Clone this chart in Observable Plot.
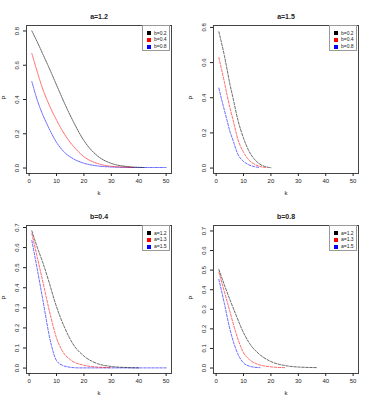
<!DOCTYPE html>
<html><head><meta charset="utf-8">
<script src="https://cdn.jsdelivr.net/npm/d3@7"></script>
<script src="https://cdn.jsdelivr.net/npm/@observablehq/plot@0.6"></script>
<style>
body{margin:0;background:#fff;font-family:"Liberation Sans",Arial,sans-serif}
#grid{display:grid;grid-template-columns:187px 187px;width:374px}
.panel{position:relative;width:187px}
.panel svg{display:block}
.legend{position:absolute;left:142px;top:25px;width:28px;height:26px;border:1px solid #999;background:#fff;box-sizing:border-box;font-size:5px;color:#222}
.legend .row{position:absolute;left:4px;height:5px;line-height:5px;white-space:nowrap}
.legend .sw{display:inline-block;width:4px;height:4px;margin-right:3px;vertical-align:middle}
</style></head><body><div id="grid"></div><script>
// ---- data ----
const panelTitles = ["a=1.2", "a=1.5", "b=0.4", "b=0.8"];
const legendLabelsB = ["b=0.2", "b=0.4", "b=0.8"];
const legendLabelsA = ["a=1.2", "a=1.3", "a=1.5"];
const seriesColors = ["black", "red", "blue"];
const xTicks = [0, 10, 20, 30, 40, 50];
const yTicksTop = [0, 0.2, 0.4, 0.6, 0.8];
const yTicksBottom = [0, 0.1, 0.2, 0.3, 0.4, 0.5, 0.6, 0.7];

// panel 1: a=1.2
const p1BlackK = [1, 3, 5, 7, 10, 13, 16, 20, 25, 30, 35, 40, 42];
const p1BlackP = [0.80, 0.735, 0.665, 0.595, 0.485, 0.375, 0.275, 0.16, 0.07, 0.027, 0.01, 0.004, 0.003];
const p1RedK = [1, 3, 5, 7, 10, 13, 16, 20, 25, 30, 35, 38];
const p1RedP = [0.668, 0.56, 0.46, 0.38, 0.28, 0.195, 0.13, 0.066, 0.026, 0.01, 0.005, 0.003];
const p1BlueK = [1, 3, 5, 7, 10, 13, 16, 20, 25, 30, 35, 40, 45, 50];
const p1BlueP = [0.504, 0.395, 0.31, 0.24, 0.15, 0.09, 0.055, 0.028, 0.012, 0.006, 0.004, 0.003, 0.003, 0.003];

// panel 2: a=1.5
const p2BlackK = [1, 2, 3, 4, 5, 6, 8, 10, 12, 14, 16, 18, 20];
const p2BlackP = [0.775, 0.71, 0.64, 0.56, 0.48, 0.41, 0.27, 0.17, 0.096, 0.05, 0.022, 0.008, 0.002];
const p2RedK = [1, 2, 3, 4, 5, 6, 8, 10, 12, 14, 16, 18];
const p2RedP = [0.628, 0.56, 0.49, 0.415, 0.345, 0.285, 0.16, 0.09, 0.045, 0.022, 0.009, 0.003];
const p2BlueK = [1, 2, 3, 4, 5, 6, 8, 10, 12, 14, 16];
const p2BlueP = [0.455, 0.39, 0.33, 0.27, 0.21, 0.165, 0.077, 0.038, 0.018, 0.008, 0.003];

// panel 3: b=0.4
const p3BlackK = [1, 3, 5, 7, 10, 13, 16, 20, 25, 30, 35, 40];
const p3BlackP = [0.683, 0.60, 0.525, 0.44, 0.305, 0.20, 0.12, 0.06, 0.022, 0.008, 0.003, 0.001];
const p3RedK = [1, 3, 5, 8, 10, 12, 15, 20, 25, 30];
const p3RedP = [0.67, 0.55, 0.43, 0.25, 0.15, 0.088, 0.042, 0.014, 0.005, 0.002];
const p3BlueK = [1, 3, 5, 8, 10, 12, 15, 18, 25, 30, 40, 50];
const p3BlueP = [0.635, 0.49, 0.34, 0.12, 0.037, 0.015, 0.004, 0.001, 0.001, 0.001, 0.001, 0.001];

// panel 4: b=0.8
const p4BlackK = [1, 3, 5, 7, 10, 13, 15, 20, 25, 30, 37];
const p4BlackP = [0.503, 0.425, 0.35, 0.28, 0.18, 0.11, 0.08, 0.033, 0.013, 0.005, 0.002];
const p4RedK = [1, 3, 5, 7, 10, 12, 15, 20, 25];
const p4RedP = [0.49, 0.39, 0.29, 0.19, 0.078, 0.045, 0.02, 0.006, 0.002];
const p4BlueK = [1, 3, 5, 8, 10, 12, 14, 16];
const p4BlueP = [0.453, 0.33, 0.20, 0.07, 0.026, 0.01, 0.004, 0.002];

// ---- build ----
function rows(ks, ps) { return ks.map((k, i) => ({k, P: ps[i]})); }

const panels = [
  {title: panelTitles[0], legend: legendLabelsB, yTicks: yTicksTop, yDomain: [-0.032, 0.832], height: 200, mb: 27, dash: "1.5,1",
   series: [rows(p1BlackK, p1BlackP), rows(p1RedK, p1RedP), rows(p1BlueK, p1BlueP)]},
  {title: panelTitles[1], legend: legendLabelsB, yTicks: yTicksTop, yDomain: [-0.031, 0.811], height: 200, mb: 27, dash: "2.5,1.5",
   series: [rows(p2BlackK, p2BlackP), rows(p2RedK, p2RedP), rows(p2BlueK, p2BlueP)]},
  {title: panelTitles[2], legend: legendLabelsA, yTicks: yTicksBottom, yDomain: [-0.027, 0.710], height: 203, mb: 30, dash: "2.5,1.5",
   series: [rows(p3BlackK, p3BlackP), rows(p3RedK, p3RedP), rows(p3BlueK, p3BlueP)]},
  {title: panelTitles[3], legend: legendLabelsA, yTicks: yTicksBottom, yDomain: [-0.028, 0.728], height: 203, mb: 30, dash: "2.5,1.5",
   series: [rows(p4BlackK, p4BlackP), rows(p4RedK, p4RedP), rows(p4BlueK, p4BlueP)]}
];

const grid = document.getElementById("grid");
for (const p of panels) {
  const lineMarks = [2, 1, 0].map(i => Plot.line(p.series[i], {
    x: "k", y: "P", stroke: seriesColors[i], strokeWidth: 0.7, strokeOpacity: 0.85,
    strokeDasharray: p.dash, curve: "monotone-x"
  }));
  const chart = Plot.plot({
    width: 187, height: p.height,
    marginLeft: 26, marginRight: 16, marginTop: 25, marginBottom: p.mb,
    x: {domain: [-0.96, 51.96]},
    y: {domain: p.yDomain},
    style: {fontFamily: "'Liberation Sans', Arial, sans-serif", fontSize: "6px", color: "#222", background: "white", overflow: "visible"},
    marks: [
      ...lineMarks,
      Plot.frame({stroke: "#444", strokeWidth: 1}),
      Plot.axisX({ticks: xTicks, tickSize: 3, tickPadding: 2, label: null, fontSize: 6}),
      Plot.axisY({ticks: p.yTicks, tickSize: 3, tickPadding: 5, tickRotate: -90, label: null, fontSize: 6, tickFormat: d3.format(".1f")}),
      Plot.text(["k"], {text: d => d, frameAnchor: "bottom", dy: 21, fontSize: 6, fill: "#222"}),
      Plot.text(["P"], {text: d => d, frameAnchor: "left", dx: -22, rotate: -90, fontSize: 6, fill: "#222"}),
      Plot.text([p.title], {text: d => d, frameAnchor: "top", dy: -11, fontSize: 7, fontWeight: "bold", fill: "#222"})
    ]
  });
  const div = document.createElement("div");
  div.className = "panel";
  div.appendChild(chart);
  const leg = document.createElement("div");
  leg.className = "legend";
  p.legend.forEach((lab, i) => {
    const r = document.createElement("div");
    r.className = "row";
    r.style.top = (4.5 + i * 6.7) + "px";
    const sw = document.createElement("span");
    sw.className = "sw";
    sw.style.background = seriesColors[i];
    r.appendChild(sw);
    r.appendChild(document.createTextNode(lab));
    leg.appendChild(r);
  });
  div.appendChild(leg);
  grid.appendChild(div);
}
</script></body></html>
